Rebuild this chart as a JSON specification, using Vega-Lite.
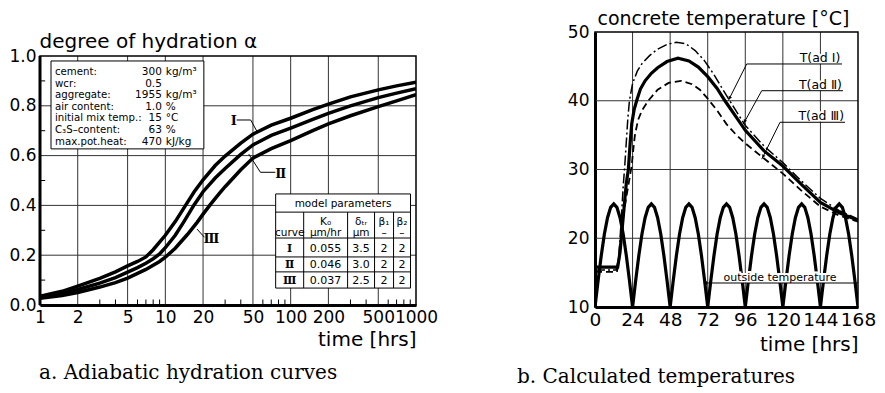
{
  "$schema": "https://vega.github.io/schema/vega-lite/v6.json",
  "background": "white",
  "padding": {"left": 8, "top": 9, "right": 5, "bottom": 5},
  "spacing": 79,
  "bounds": "full",
  "config": {
    "font": "DejaVu Sans",
    "view": {"stroke": null},
    "axis": {"labelColor": "black", "titleColor": "black", "titleFontWeight": "normal", "labelFont": "DejaVu Sans", "titleFont": "DejaVu Sans", "domainColor": "black", "domainWidth": 3, "grid": false, "ticks": false},
    "title": {"color": "black", "font": "DejaVu Serif", "fontWeight": "normal", "fontSize": 20},
    "text": {"color": "black"}
  },
  "datasets": {
    "hydration": [
      {"curve": "I", "t": 1, "alpha": 0.035}, {"curve": "I", "t": 1.5, "alpha": 0.055}, {"curve": "I", "t": 2, "alpha": 0.076}, {"curve": "I", "t": 3, "alpha": 0.107}, {"curve": "I", "t": 4, "alpha": 0.133}, {"curve": "I", "t": 5, "alpha": 0.157}, {"curve": "I", "t": 6, "alpha": 0.175}, {"curve": "I", "t": 7, "alpha": 0.193}, {"curve": "I", "t": 8, "alpha": 0.222}, {"curve": "I", "t": 10, "alpha": 0.28}, {"curve": "I", "t": 12, "alpha": 0.335}, {"curve": "I", "t": 14.5, "alpha": 0.4}, {"curve": "I", "t": 17, "alpha": 0.455}, {"curve": "I", "t": 20, "alpha": 0.503}, {"curve": "I", "t": 25, "alpha": 0.56}, {"curve": "I", "t": 30, "alpha": 0.598}, {"curve": "I", "t": 40, "alpha": 0.65}, {"curve": "I", "t": 50, "alpha": 0.686}, {"curve": "I", "t": 70, "alpha": 0.722}, {"curve": "I", "t": 100, "alpha": 0.75}, {"curve": "I", "t": 150, "alpha": 0.785}, {"curve": "I", "t": 200, "alpha": 0.807}, {"curve": "I", "t": 300, "alpha": 0.836}, {"curve": "I", "t": 500, "alpha": 0.864}, {"curve": "I", "t": 700, "alpha": 0.88}, {"curve": "I", "t": 1000, "alpha": 0.895},
      {"curve": "II", "t": 1, "alpha": 0.03}, {"curve": "II", "t": 1.5, "alpha": 0.045}, {"curve": "II", "t": 2, "alpha": 0.062}, {"curve": "II", "t": 3, "alpha": 0.088}, {"curve": "II", "t": 4, "alpha": 0.11}, {"curve": "II", "t": 5, "alpha": 0.132}, {"curve": "II", "t": 6, "alpha": 0.15}, {"curve": "II", "t": 7, "alpha": 0.168}, {"curve": "II", "t": 8, "alpha": 0.186}, {"curve": "II", "t": 9, "alpha": 0.205}, {"curve": "II", "t": 10, "alpha": 0.23}, {"curve": "II", "t": 12, "alpha": 0.28}, {"curve": "II", "t": 14, "alpha": 0.333}, {"curve": "II", "t": 17, "alpha": 0.403}, {"curve": "II", "t": 20, "alpha": 0.455}, {"curve": "II", "t": 25, "alpha": 0.51}, {"curve": "II", "t": 30, "alpha": 0.548}, {"curve": "II", "t": 40, "alpha": 0.605}, {"curve": "II", "t": 50, "alpha": 0.643}, {"curve": "II", "t": 70, "alpha": 0.681}, {"curve": "II", "t": 100, "alpha": 0.71}, {"curve": "II", "t": 150, "alpha": 0.745}, {"curve": "II", "t": 200, "alpha": 0.77}, {"curve": "II", "t": 300, "alpha": 0.8}, {"curve": "II", "t": 500, "alpha": 0.833}, {"curve": "II", "t": 700, "alpha": 0.851}, {"curve": "II", "t": 1000, "alpha": 0.869},
      {"curve": "III", "t": 1, "alpha": 0.027}, {"curve": "III", "t": 1.5, "alpha": 0.038}, {"curve": "III", "t": 2, "alpha": 0.05}, {"curve": "III", "t": 3, "alpha": 0.072}, {"curve": "III", "t": 4, "alpha": 0.09}, {"curve": "III", "t": 5, "alpha": 0.108}, {"curve": "III", "t": 7, "alpha": 0.143}, {"curve": "III", "t": 9, "alpha": 0.175}, {"curve": "III", "t": 10, "alpha": 0.192}, {"curve": "III", "t": 12, "alpha": 0.228}, {"curve": "III", "t": 15, "alpha": 0.283}, {"curve": "III", "t": 18, "alpha": 0.333}, {"curve": "III", "t": 20, "alpha": 0.365}, {"curve": "III", "t": 23, "alpha": 0.405}, {"curve": "III", "t": 27, "alpha": 0.448}, {"curve": "III", "t": 30, "alpha": 0.475}, {"curve": "III", "t": 40, "alpha": 0.543}, {"curve": "III", "t": 50, "alpha": 0.59}, {"curve": "III", "t": 70, "alpha": 0.628}, {"curve": "III", "t": 100, "alpha": 0.66}, {"curve": "III", "t": 150, "alpha": 0.7}, {"curve": "III", "t": 200, "alpha": 0.727}, {"curve": "III", "t": 300, "alpha": 0.76}, {"curve": "III", "t": 500, "alpha": 0.797}, {"curve": "III", "t": 700, "alpha": 0.82}, {"curve": "III", "t": 1000, "alpha": 0.845}
    ],
    "grid_t": [{"t": 2}, {"t": 5}, {"t": 10}, {"t": 20}, {"t": 50}, {"t": 100}, {"t": 200}, {"t": 500}],
    "grid_alpha": [{"alpha": 0.2}, {"alpha": 0.4}, {"alpha": 0.6}, {"alpha": 0.8}],
    "minor_t": [{"t": 3}, {"t": 4}, {"t": 6}, {"t": 7}, {"t": 8}, {"t": 9}, {"t": 30}, {"t": 40}, {"t": 60}, {"t": 70}, {"t": 80}, {"t": 90}, {"t": 300}, {"t": 400}, {"t": 600}, {"t": 700}, {"t": 800}, {"t": 900}],
    "minor_alpha": [{"alpha": 0.1}, {"alpha": 0.3}, {"alpha": 0.5}, {"alpha": 0.7}, {"alpha": 0.9}],
    "grid_h": [{"t": 24}, {"t": 48}, {"t": 72}, {"t": 96}, {"t": 120}, {"t": 144}],
    "grid_T": [{"T": 20}, {"T": 30}, {"T": 40}],
    "info": [
      {"labels": ["cement:", "wcr:", "aggregate:", "air content:", "initial mix temp.:", "C₃S–content:", "max.pot.heat:"], "values": ["300", "0.5", "1955", "1.0", "15", "63", "470"], "units": ["kg/m³", "\u200b", "kg/m³", "%", "°C", "%", "kJ/kg"]}
    ],
    "params": [
      {"curve": ["Ⅰ", "Ⅱ", "Ⅲ"], "K0": ["0.055", "0.046", "0.037"], "dtr": ["3.5", "3.0", "2.5"], "beta1": ["2", "2", "2"], "beta2": ["2", "2", "2"]}
    ],
    "concrete": [
      {"curve": "I", "t": 0, "T": 15.4}, {"curve": "I", "t": 13.5, "T": 15.4}, {"curve": "I", "t": 15, "T": 17}, {"curve": "I", "t": 16, "T": 20}, {"curve": "I", "t": 17, "T": 23.5}, {"curve": "I", "t": 18, "T": 27.5}, {"curve": "I", "t": 19, "T": 30.5}, {"curve": "I", "t": 20, "T": 34}, {"curve": "I", "t": 21, "T": 37.5}, {"curve": "I", "t": 22, "T": 40}, {"curve": "I", "t": 24, "T": 42.5}, {"curve": "I", "t": 27, "T": 44.3}, {"curve": "I", "t": 30, "T": 45.4}, {"curve": "I", "t": 35, "T": 46.6}, {"curve": "I", "t": 40, "T": 47.5}, {"curve": "I", "t": 46, "T": 48.2}, {"curve": "I", "t": 52, "T": 48.5}, {"curve": "I", "t": 58, "T": 48.3}, {"curve": "I", "t": 64, "T": 47.3}, {"curve": "I", "t": 70, "T": 45.8}, {"curve": "I", "t": 76, "T": 43.8}, {"curve": "I", "t": 82, "T": 41.5}, {"curve": "I", "t": 88, "T": 39.3}, {"curve": "I", "t": 96, "T": 36.4}, {"curve": "I", "t": 108, "T": 33.4}, {"curve": "I", "t": 120, "T": 31.0}, {"curve": "I", "t": 132, "T": 28.3}, {"curve": "I", "t": 144, "T": 25.8}, {"curve": "I", "t": 156, "T": 24.0}, {"curve": "I", "t": 168, "T": 22.8},
      {"curve": "II", "t": 0, "T": 15.8}, {"curve": "II", "t": 14.5, "T": 15.8}, {"curve": "II", "t": 16, "T": 18}, {"curve": "II", "t": 17, "T": 20.5}, {"curve": "II", "t": 18, "T": 23}, {"curve": "II", "t": 19, "T": 25.5}, {"curve": "II", "t": 20, "T": 28}, {"curve": "II", "t": 21.3, "T": 30}, {"curve": "II", "t": 22.5, "T": 34}, {"curve": "II", "t": 23.5, "T": 36.7}, {"curve": "II", "t": 25, "T": 38.7}, {"curve": "II", "t": 26.6, "T": 40}, {"curve": "II", "t": 29, "T": 41.7}, {"curve": "II", "t": 32, "T": 42.9}, {"curve": "II", "t": 36, "T": 44}, {"curve": "II", "t": 40, "T": 44.8}, {"curve": "II", "t": 46, "T": 45.7}, {"curve": "II", "t": 53, "T": 46.2}, {"curve": "II", "t": 60, "T": 45.8}, {"curve": "II", "t": 66, "T": 44.9}, {"curve": "II", "t": 72, "T": 43.5}, {"curve": "II", "t": 78, "T": 41.8}, {"curve": "II", "t": 83, "T": 40}, {"curve": "II", "t": 90, "T": 37.7}, {"curve": "II", "t": 96, "T": 35.7}, {"curve": "II", "t": 108, "T": 32.7}, {"curve": "II", "t": 120, "T": 30.5}, {"curve": "II", "t": 132, "T": 27.8}, {"curve": "II", "t": 144, "T": 25.2}, {"curve": "II", "t": 156, "T": 23.7}, {"curve": "II", "t": 168, "T": 22.6},
      {"curve": "III", "t": 0, "T": 15.1}, {"curve": "III", "t": 14, "T": 15.1}, {"curve": "III", "t": 15.5, "T": 17}, {"curve": "III", "t": 16.5, "T": 20}, {"curve": "III", "t": 18, "T": 23}, {"curve": "III", "t": 20, "T": 26}, {"curve": "III", "t": 22, "T": 28.6}, {"curve": "III", "t": 23.4, "T": 30.5}, {"curve": "III", "t": 24.5, "T": 33}, {"curve": "III", "t": 25.5, "T": 35}, {"curve": "III", "t": 27.5, "T": 37.2}, {"curve": "III", "t": 30, "T": 38.6}, {"curve": "III", "t": 34, "T": 40}, {"curve": "III", "t": 40, "T": 41.6}, {"curve": "III", "t": 47, "T": 42.6}, {"curve": "III", "t": 55, "T": 42.9}, {"curve": "III", "t": 62, "T": 42.4}, {"curve": "III", "t": 67, "T": 41.6}, {"curve": "III", "t": 72, "T": 40.3}, {"curve": "III", "t": 78, "T": 38.6}, {"curve": "III", "t": 84, "T": 36.6}, {"curve": "III", "t": 90, "T": 35.1}, {"curve": "III", "t": 96, "T": 33.8}, {"curve": "III", "t": 108, "T": 31.6}, {"curve": "III", "t": 120, "T": 29.4}, {"curve": "III", "t": 132, "T": 26.9}, {"curve": "III", "t": 144, "T": 24.6}, {"curve": "III", "t": 156, "T": 23.3}, {"curve": "III", "t": 168, "T": 22.4}
    ],
    "outside": [
      {"t": 0, "T": 10}, {"t": 2, "T": 13.88}, {"t": 4, "T": 17.5}, {"t": 6, "T": 20.61}, {"t": 8, "T": 22.99}, {"t": 10, "T": 24.49}, {"t": 12, "T": 25}, {"t": 14, "T": 24.49}, {"t": 16, "T": 22.99}, {"t": 18, "T": 20.61}, {"t": 20, "T": 17.5}, {"t": 22, "T": 13.88},
      {"t": 24, "T": 10}, {"t": 26, "T": 13.88}, {"t": 28, "T": 17.5}, {"t": 30, "T": 20.61}, {"t": 32, "T": 22.99}, {"t": 34, "T": 24.49}, {"t": 36, "T": 25}, {"t": 38, "T": 24.49}, {"t": 40, "T": 22.99}, {"t": 42, "T": 20.61}, {"t": 44, "T": 17.5}, {"t": 46, "T": 13.88},
      {"t": 48, "T": 10}, {"t": 50, "T": 13.88}, {"t": 52, "T": 17.5}, {"t": 54, "T": 20.61}, {"t": 56, "T": 22.99}, {"t": 58, "T": 24.49}, {"t": 60, "T": 25}, {"t": 62, "T": 24.49}, {"t": 64, "T": 22.99}, {"t": 66, "T": 20.61}, {"t": 68, "T": 17.5}, {"t": 70, "T": 13.88},
      {"t": 72, "T": 10}, {"t": 74, "T": 13.88}, {"t": 76, "T": 17.5}, {"t": 78, "T": 20.61}, {"t": 80, "T": 22.99}, {"t": 82, "T": 24.49}, {"t": 84, "T": 25}, {"t": 86, "T": 24.49}, {"t": 88, "T": 22.99}, {"t": 90, "T": 20.61}, {"t": 92, "T": 17.5}, {"t": 94, "T": 13.88},
      {"t": 96, "T": 10}, {"t": 98, "T": 13.88}, {"t": 100, "T": 17.5}, {"t": 102, "T": 20.61}, {"t": 104, "T": 22.99}, {"t": 106, "T": 24.49}, {"t": 108, "T": 25}, {"t": 110, "T": 24.49}, {"t": 112, "T": 22.99}, {"t": 114, "T": 20.61}, {"t": 116, "T": 17.5}, {"t": 118, "T": 13.88},
      {"t": 120, "T": 10}, {"t": 122, "T": 13.88}, {"t": 124, "T": 17.5}, {"t": 126, "T": 20.61}, {"t": 128, "T": 22.99}, {"t": 130, "T": 24.49}, {"t": 132, "T": 25}, {"t": 134, "T": 24.49}, {"t": 136, "T": 22.99}, {"t": 138, "T": 20.61}, {"t": 140, "T": 17.5}, {"t": 142, "T": 13.88},
      {"t": 144, "T": 10}, {"t": 146, "T": 13.88}, {"t": 148, "T": 17.5}, {"t": 150, "T": 20.61}, {"t": 152, "T": 22.99}, {"t": 154, "T": 24.49}, {"t": 156, "T": 25}, {"t": 158, "T": 24.49}, {"t": 160, "T": 22.99}, {"t": 162, "T": 20.61}, {"t": 164, "T": 17.5}, {"t": 166, "T": 13.88},
      {"t": 168, "T": 10}
    ]
  },
  "hconcat": [
    {
      "width": 376,
      "height": 273,
      "title": {"text": "a.  Adiabatic hydration curves", "orient": "bottom", "anchor": "start", "frame": "group", "offset": 14, "dx": -1},
      "layer": [
        {
          "data": {"name": "grid_t"},
          "mark": {"type": "rule", "color": "#333", "strokeWidth": 1},
          "encoding": {
            "x": {"field": "t", "type": "quantitative", "scale": {"type": "log", "domain": [1, 1000], "nice": false}},
            "y": {"datum": 0, "scale": {"domain": [0, 1.0964], "nice": false, "zero": false}},
            "y2": {"datum": 1}
          }
        },
        {
          "data": {"name": "grid_alpha"},
          "mark": {"type": "rule", "color": "#333", "strokeWidth": 1},
          "encoding": {"y": {"field": "alpha", "type": "quantitative"}}
        },
        {
          "data": {"name": "hydration"},
          "mark": {"type": "line", "color": "black", "strokeWidth": 3.5, "clip": true},
          "encoding": {
            "x": {
              "field": "t", "type": "quantitative",
              "scale": {"type": "log", "domain": [1, 1000], "nice": false},
              "axis": {
                "values": [1, 2, 5, 10, 20, 50, 100, 200, 500, 1000], "format": "d", "tickCount": 30,
                "labelOverlap": false, "labelFlush": false, "labelFontSize": 17, "labelPadding": 4,
                "title": "time [hrs]", "titleAnchor": "end", "titleFontSize": 20, "titlePadding": 4
              }
            },
            "y": {
              "field": "alpha", "type": "quantitative",
              "scale": {"domain": [0, 1.0964], "nice": false, "zero": false},
              "axis": {
                "values": [0, 0.2, 0.4, 0.6, 0.8, 1], "format": ".1f", "tickCount": 30, "domain": false,
                "labelFontSize": 17, "labelPadding": 4,
                "title": "degree of hydration α", "titleAngle": 0, "titleAlign": "left", "titleBaseline": "alphabetic",
                "titleX": -1, "titleY": 15, "titleFontSize": 20
              }
            },
            "detail": {"field": "curve", "type": "nominal"}
          }
        },
        {
          "data": {"name": "minor_t"},
          "mark": {"type": "rule", "color": "black", "strokeWidth": 1},
          "encoding": {"x": {"field": "t", "type": "quantitative"}, "y": {"datum": 0}, "y2": {"datum": 0.022}}
        },
        {
          "data": {"name": "minor_alpha"},
          "mark": {"type": "rule", "color": "black", "strokeWidth": 1},
          "encoding": {"y": {"field": "alpha", "type": "quantitative"}, "x": {"datum": 1}, "x2": {"datum": 1.1}}
        },
        {
          "data": {"values": [{}]},
          "layer": [
            {"mark": {"type": "rect", "fill": "transparent", "stroke": "black", "strokeWidth": 1.5},
             "encoding": {"x": {"datum": 1}, "x2": {"datum": 1000}, "y": {"datum": 0}, "y2": {"datum": 1}}},
            {"mark": {"type": "rule", "color": "black", "strokeWidth": 3},
             "encoding": {"x": {"datum": 1}, "y": {"datum": 0}, "y2": {"datum": 1}}},
            {"mark": {"type": "rect", "fill": "white", "stroke": "black", "strokeWidth": 1},
             "encoding": {"x": {"datum": 1.224}, "x2": {"datum": 20.3}, "y": {"datum": 0.98}, "y2": {"datum": 0.627}}},
            {"mark": {"type": "rect", "fill": "white", "stroke": "black", "strokeWidth": 1},
             "encoding": {"x": {"datum": 75.9}, "x2": {"datum": 904}, "y": {"datum": 0.446}, "y2": {"datum": 0.068}}},
            {"mark": {"type": "rule", "color": "black", "strokeWidth": 1}, "encoding": {"x": {"datum": 75.9}, "x2": {"datum": 904}, "y": {"datum": 0.373}}},
            {"mark": {"type": "rule", "color": "black", "strokeWidth": 1}, "encoding": {"x": {"datum": 75.9}, "x2": {"datum": 904}, "y": {"datum": 0.269}}},
            {"mark": {"type": "rule", "color": "black", "strokeWidth": 1}, "encoding": {"x": {"datum": 75.9}, "x2": {"datum": 904}, "y": {"datum": 0.193}}},
            {"mark": {"type": "rule", "color": "black", "strokeWidth": 1}, "encoding": {"x": {"datum": 75.9}, "x2": {"datum": 904}, "y": {"datum": 0.133}}},
            {"mark": {"type": "rule", "color": "black", "strokeWidth": 1}, "encoding": {"x": {"datum": 127}, "y": {"datum": 0.373}, "y2": {"datum": 0.068}}},
            {"mark": {"type": "rule", "color": "black", "strokeWidth": 1}, "encoding": {"x": {"datum": 284.6}, "y": {"datum": 0.373}, "y2": {"datum": 0.068}}},
            {"mark": {"type": "rule", "color": "black", "strokeWidth": 1}, "encoding": {"x": {"datum": 467}, "y": {"datum": 0.373}, "y2": {"datum": 0.068}}},
            {"mark": {"type": "rule", "color": "black", "strokeWidth": 1}, "encoding": {"x": {"datum": 662}, "y": {"datum": 0.373}, "y2": {"datum": 0.068}}},
            {"mark": {"type": "text", "fontSize": 10.5, "align": "center", "baseline": "alphabetic"},
             "encoding": {"x": {"datum": 262}, "y": {"datum": 0.392}, "text": {"value": "model parameters"}}},
            {"mark": {"type": "text", "fontSize": 10.5, "align": "center", "baseline": "alphabetic"},
             "encoding": {"x": {"datum": 98.2}, "y": {"datum": 0.277}, "text": {"value": "curve"}}},
            {"mark": {"type": "text", "fontSize": 10.5, "align": "center", "baseline": "alphabetic", "lineHeight": 11},
             "encoding": {"x": {"datum": 190}, "y": {"datum": 0.321}, "text": {"value": ["K₀", "μm/hr"]}}},
            {"mark": {"type": "text", "fontSize": 10.5, "align": "center", "baseline": "alphabetic", "lineHeight": 11},
             "encoding": {"x": {"datum": 364.6}, "y": {"datum": 0.321}, "text": {"value": ["δₜᵣ", "μm"]}}},
            {"mark": {"type": "text", "fontSize": 10.5, "align": "center", "baseline": "alphabetic", "lineHeight": 11},
             "encoding": {"x": {"datum": 556}, "y": {"datum": 0.321}, "text": {"value": ["β₁", "–"]}}},
            {"mark": {"type": "text", "fontSize": 10.5, "align": "center", "baseline": "alphabetic", "lineHeight": 11},
             "encoding": {"x": {"datum": 773}, "y": {"datum": 0.321}, "text": {"value": ["β₂", "–"]}}},
            {"mark": {"type": "rule", "color": "black", "strokeWidth": 1}, "encoding": {"x": {"datum": 37.1}, "x2": {"datum": 48}, "y": {"datum": 0.743}, "y2": {"datum": 0.743}}},
            {"mark": {"type": "rule", "color": "black", "strokeWidth": 1}, "encoding": {"x": {"datum": 48}, "x2": {"datum": 53.6}, "y": {"datum": 0.743}, "y2": {"datum": 0.699}}},
            {"mark": {"type": "rule", "color": "black", "strokeWidth": 1}, "encoding": {"x": {"datum": 46.3}, "x2": {"datum": 57.4}, "y": {"datum": 0.606}, "y2": {"datum": 0.533}}},
            {"mark": {"type": "rule", "color": "black", "strokeWidth": 1}, "encoding": {"x": {"datum": 57.4}, "x2": {"datum": 75.5}, "y": {"datum": 0.533}, "y2": {"datum": 0.533}}},
            {"mark": {"type": "rule", "color": "black", "strokeWidth": 1}, "encoding": {"x": {"datum": 17.9}, "x2": {"datum": 20.5}, "y": {"datum": 0.305}, "y2": {"datum": 0.272}}},
            {"mark": {"type": "text", "font": "DejaVu Serif", "fontWeight": "bold", "fontSize": 13, "align": "center", "baseline": "middle"},
             "encoding": {"x": {"datum": 35.1}, "y": {"datum": 0.739}, "text": {"value": "Ⅰ"}}},
            {"mark": {"type": "text", "font": "DejaVu Serif", "fontWeight": "bold", "fontSize": 13, "align": "center", "baseline": "middle"},
             "encoding": {"x": {"datum": 83.3}, "y": {"datum": 0.527}, "text": {"value": "Ⅱ"}}},
            {"mark": {"type": "text", "font": "DejaVu Serif", "fontWeight": "bold", "fontSize": 13, "align": "center", "baseline": "middle"},
             "encoding": {"x": {"datum": 23.3}, "y": {"datum": 0.267}, "text": {"value": "Ⅲ"}}}
          ]
        },
        {
          "data": {"name": "info"},
          "mark": {"type": "text", "fontSize": 10.2, "align": "left", "baseline": "alphabetic", "lineHeight": 11.6},
          "encoding": {"x": {"datum": 1.317}, "y": {"datum": 0.924}, "text": {"field": "labels", "type": "nominal"}}
        },
        {
          "data": {"name": "info"},
          "mark": {"type": "text", "fontSize": 10.5, "align": "right", "baseline": "alphabetic", "lineHeight": 11.6},
          "encoding": {"x": {"datum": 9.38}, "y": {"datum": 0.924}, "text": {"field": "values", "type": "nominal"}}
        },
        {
          "data": {"name": "info"},
          "mark": {"type": "text", "fontSize": 10.5, "align": "left", "baseline": "alphabetic", "lineHeight": 11.6},
          "encoding": {"x": {"datum": 10.1}, "y": {"datum": 0.924}, "text": {"field": "units", "type": "nominal"}}
        },
        {
          "data": {"name": "params"},
          "mark": {"type": "text", "font": "DejaVu Serif", "fontWeight": "bold", "fontSize": 11, "align": "center", "baseline": "alphabetic", "lineHeight": 16},
          "encoding": {"x": {"datum": 98.2}, "y": {"datum": 0.213}, "text": {"field": "curve", "type": "nominal"}}
        },
        {
          "data": {"name": "params"},
          "mark": {"type": "text", "fontSize": 11, "align": "center", "baseline": "alphabetic", "lineHeight": 16},
          "encoding": {"x": {"datum": 190}, "y": {"datum": 0.213}, "text": {"field": "K0", "type": "nominal"}}
        },
        {
          "data": {"name": "params"},
          "mark": {"type": "text", "fontSize": 11, "align": "center", "baseline": "alphabetic", "lineHeight": 16},
          "encoding": {"x": {"datum": 364.6}, "y": {"datum": 0.213}, "text": {"field": "dtr", "type": "nominal"}}
        },
        {
          "data": {"name": "params"},
          "mark": {"type": "text", "fontSize": 11, "align": "center", "baseline": "alphabetic", "lineHeight": 16},
          "encoding": {"x": {"datum": 556}, "y": {"datum": 0.213}, "text": {"field": "beta1", "type": "nominal"}}
        },
        {
          "data": {"name": "params"},
          "mark": {"type": "text", "fontSize": 11, "align": "center", "baseline": "alphabetic", "lineHeight": 16},
          "encoding": {"x": {"datum": 773}, "y": {"datum": 0.213}, "text": {"field": "beta2", "type": "nominal"}}
        }
      ]
    },
    {
      "width": 263,
      "height": 275,
      "title": {"text": "b.  Calculated temperatures", "orient": "bottom", "anchor": "start", "frame": "group", "offset": 12, "dx": -78},
      "layer": [
        {
          "data": {"name": "grid_h"},
          "mark": {"type": "rule", "color": "#333", "strokeWidth": 1},
          "encoding": {"x": {"field": "t", "type": "quantitative", "scale": {"domain": [0, 168], "nice": false, "zero": false}}}
        },
        {
          "data": {"name": "grid_T"},
          "mark": {"type": "rule", "color": "#333", "strokeWidth": 1},
          "encoding": {"y": {"field": "T", "type": "quantitative", "scale": {"domain": [10, 50], "nice": false, "zero": false}}}
        },
        {
          "data": {"name": "outside"},
          "mark": {"type": "line", "color": "black", "strokeWidth": 3.2, "clip": true},
          "encoding": {
            "x": {
              "field": "t", "type": "quantitative",
              "scale": {"domain": [0, 168], "nice": false, "zero": false},
              "axis": {
                "values": [0, 24, 48, 72, 96, 120, 144, 168], "tickCount": 30,
                "labelOverlap": false, "labelFlush": false, "labelFontSize": 18.5, "labelPadding": 3,
                "title": "time [hrs]", "titleAnchor": "end", "titleFontSize": 20, "titlePadding": 6
              }
            },
            "y": {
              "field": "T", "type": "quantitative",
              "scale": {"domain": [10, 50], "nice": false, "zero": false},
              "axis": {
                "values": [10, 20, 30, 40, 50], "tickCount": 30,
                "labelFontSize": 17, "labelPadding": 6,
                "title": "concrete temperature [°C]", "titleAngle": 0, "titleAlign": "left", "titleBaseline": "alphabetic",
                "titleX": 2, "titleY": -8, "titleFontSize": 19
              }
            }
          }
        },
        {
          "data": {"name": "concrete"},
          "transform": [{"filter": "datum.curve === 'I'"}],
          "mark": {"type": "line", "color": "black", "strokeWidth": 1.5, "strokeDash": [10, 3, 2, 3], "clip": true},
          "encoding": {"x": {"field": "t", "type": "quantitative"}, "y": {"field": "T", "type": "quantitative"}}
        },
        {
          "data": {"name": "concrete"},
          "transform": [{"filter": "datum.curve === 'II'"}],
          "mark": {"type": "line", "color": "black", "strokeWidth": 3.2, "clip": true},
          "encoding": {"x": {"field": "t", "type": "quantitative"}, "y": {"field": "T", "type": "quantitative"}}
        },
        {
          "data": {"name": "concrete"},
          "transform": [{"filter": "datum.curve === 'III'"}],
          "mark": {"type": "line", "color": "black", "strokeWidth": 1.8, "strokeDash": [7, 4], "clip": true},
          "encoding": {"x": {"field": "t", "type": "quantitative"}, "y": {"field": "T", "type": "quantitative"}}
        },
        {
          "data": {"values": [{}]},
          "layer": [
            {"mark": {"type": "rect", "fill": "transparent", "stroke": "black", "strokeWidth": 1.5},
             "encoding": {"x": {"datum": 0}, "x2": {"datum": 168}, "y": {"datum": 10}, "y2": {"datum": 50}}},
            {"mark": {"type": "text", "fontSize": 12.5, "align": "center", "baseline": "alphabetic", "dy": -2, "stroke": "white", "strokeWidth": 4},
             "encoding": {"x": {"datum": 143.7}, "y": {"datum": 45.35}, "text": {"value": "T(ad Ⅰ)"}}},
            {"mark": {"type": "text", "fontSize": 12.5, "align": "center", "baseline": "alphabetic", "dy": -2, "stroke": "white", "strokeWidth": 4},
             "encoding": {"x": {"datum": 144}, "y": {"datum": 41.46}, "text": {"value": "T(ad Ⅱ)"}}},
            {"mark": {"type": "text", "fontSize": 12.5, "align": "center", "baseline": "alphabetic", "dy": -2, "stroke": "white", "strokeWidth": 4},
             "encoding": {"x": {"datum": 144.5}, "y": {"datum": 36.87}, "text": {"value": "T(ad Ⅲ)"}}},
            {"mark": {"type": "text", "fontSize": 11, "align": "center", "baseline": "alphabetic", "dy": -2, "stroke": "white", "strokeWidth": 4},
             "encoding": {"x": {"datum": 118.2}, "y": {"datum": 13.49}, "text": {"value": "outside temperature"}}},
            {"mark": {"type": "rule", "color": "black", "strokeWidth": 1}, "encoding": {"x": {"datum": 96.9}, "x2": {"datum": 157.8}, "y": {"datum": 45.35}, "y2": {"datum": 45.35}}},
            {"mark": {"type": "rule", "color": "black", "strokeWidth": 1}, "encoding": {"x": {"datum": 96.9}, "x2": {"datum": 85.1}, "y": {"datum": 45.35}, "y2": {"datum": 40.0}}},
            {"mark": {"type": "rule", "color": "black", "strokeWidth": 1}, "encoding": {"x": {"datum": 106.5}, "x2": {"datum": 158.4}, "y": {"datum": 41.46}, "y2": {"datum": 41.46}}},
            {"mark": {"type": "rule", "color": "black", "strokeWidth": 1}, "encoding": {"x": {"datum": 106.5}, "x2": {"datum": 94.7}, "y": {"datum": 41.46}, "y2": {"datum": 36.6}}},
            {"mark": {"type": "rule", "color": "black", "strokeWidth": 1}, "encoding": {"x": {"datum": 118.2}, "x2": {"datum": 159.7}, "y": {"datum": 36.87}, "y2": {"datum": 36.87}}},
            {"mark": {"type": "rule", "color": "black", "strokeWidth": 1}, "encoding": {"x": {"datum": 118.2}, "x2": {"datum": 106.5}, "y": {"datum": 36.87}, "y2": {"datum": 31.5}}},
            {"mark": {"type": "rule", "color": "black", "strokeWidth": 1}, "encoding": {"x": {"datum": 69.5}, "x2": {"datum": 168}, "y": {"datum": 13.49}, "y2": {"datum": 13.49}}},
            {"mark": {"type": "point", "shape": "triangle-left", "filled": true, "color": "black", "size": 18, "opacity": 1},
             "encoding": {"x": {"datum": 70.5}, "y": {"datum": 13.49}}},
            {"mark": {"type": "point", "shape": "triangle-up", "filled": true, "color": "black", "size": 14, "opacity": 1, "angle": 207},
             "encoding": {"x": {"datum": 86.0}, "y": {"datum": 40.4}}},
            {"mark": {"type": "point", "shape": "triangle-up", "filled": true, "color": "black", "size": 14, "opacity": 1, "angle": 209},
             "encoding": {"x": {"datum": 95.6}, "y": {"datum": 37.0}}},
            {"mark": {"type": "point", "shape": "triangle-up", "filled": true, "color": "black", "size": 14, "opacity": 1, "angle": 206},
             "encoding": {"x": {"datum": 107.4}, "y": {"datum": 31.9}}},
            {"mark": {"type": "text", "fontSize": 12.5, "align": "center", "baseline": "alphabetic", "dy": -2},
             "encoding": {"x": {"datum": 143.7}, "y": {"datum": 45.35}, "text": {"value": "T(ad Ⅰ)"}}},
            {"mark": {"type": "text", "fontSize": 12.5, "align": "center", "baseline": "alphabetic", "dy": -2},
             "encoding": {"x": {"datum": 144}, "y": {"datum": 41.46}, "text": {"value": "T(ad Ⅱ)"}}},
            {"mark": {"type": "text", "fontSize": 12.5, "align": "center", "baseline": "alphabetic", "dy": -2},
             "encoding": {"x": {"datum": 144.5}, "y": {"datum": 36.87}, "text": {"value": "T(ad Ⅲ)"}}},
            {"mark": {"type": "text", "fontSize": 11, "align": "center", "baseline": "alphabetic", "dy": -2},
             "encoding": {"x": {"datum": 118.2}, "y": {"datum": 13.49}, "text": {"value": "outside temperature"}}}
          ]
        }
      ]
    }
  ]
}
